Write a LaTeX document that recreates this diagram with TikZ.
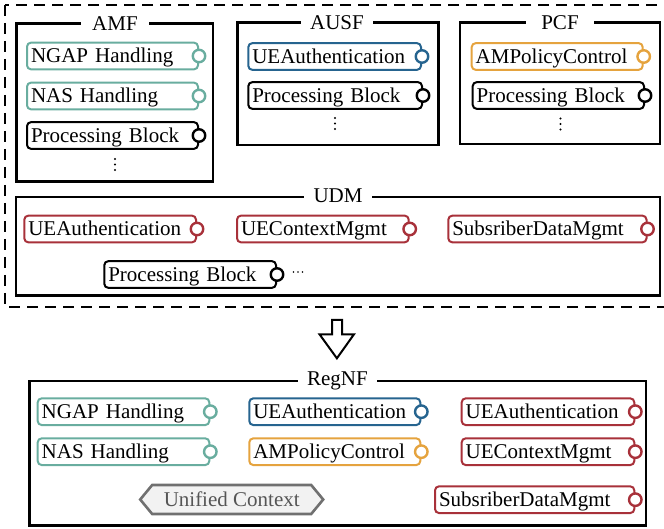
\documentclass[tikz,border=0pt]{standalone}
\usepackage{fontspec}
\setmainfont{Liberation Serif}
\usetikzlibrary{calc}

\definecolor{nfteal}{HTML}{69AD9F}
\definecolor{nfblue}{HTML}{26648F}
\definecolor{nforange}{HTML}{E5A33E}
\definecolor{nfred}{HTML}{A8313A}
\definecolor{ctxgray}{HTML}{707070}
\definecolor{ctxfill}{HTML}{F2F2F2}
\definecolor{ctxtext}{HTML}{555555}

\tikzset{
  grp/.style={draw=black, line width=2.6pt},
  outer/.style={draw=black, line width=2.6pt, dash pattern=on 11pt off 7pt},
  grptitle/.style={fill=white, inner xsep=9pt, inner ysep=0pt, minimum width=68pt,
    text height=16pt, text depth=2pt, font=\fontsize{21}{24}\selectfont},
  comp/.style={draw, fill=white, line width=2pt, rounded corners=4pt,
    inner xsep=4pt, inner ysep=3pt, minimum height=26.7pt,
    text height=16pt, text depth=2pt, align=left, anchor=west,
    font=\fontsize{21}{24}\selectfont},
  port/.style={circle, draw, fill=white, line width=2.4pt, minimum size=12.5pt, inner sep=0pt},
  dot/.style={fill=black},
  ctxbox/.style={draw=ctxgray, fill=ctxfill, line width=2.6pt, line join=miter},
  bigarrow/.style={draw=black, fill=white, line width=2pt, line join=miter},
}

% component block: name, colour, left x, port x, centre y, label
\newcommand\mkcomp[6]{%
  \pgfmathsetmacro\compw{#4-#3-8}%
  \node[comp, draw=#2, text width=\compw pt] (#1) at (#3,#5) {#6};
  \node[port, draw=#2] (#1p) at (#1.east) {};
}
% three stacked dots below a block list
\newcommand\vdotmark[1]{%
  \foreach \dy in {-5.5,0,5.5} {\fill[dot] ($(#1)+(0,\dy)$) circle (1.1pt);}%
}

\begin{document}
\begin{tikzpicture}[x=1pt, y=-1pt]
\useasboundingbox (0,0) rectangle (664,529);

% legacy network functions
\draw[outer] (5,5) rectangle (668,307);

% AMF
\draw[grp] (16.5,23.3) rectangle (213,181.7);
\node[grptitle] (amft) at (115,23.5) {AMF};
\mkcomp{amfngap}{nfteal}{26}{197}{56}{NGAP Handling}
\mkcomp{amfnas}{nfteal}{26}{197}{96}{NAS Handling}
\mkcomp{amfpb}{black}{26}{197}{135.5}{Processing Block}
\coordinate (amfdots) at (115,164.5);
\vdotmark{amfdots}

% AUSF
\draw[grp] (237.3,22.7) rectangle (438.3,145);
\node[grptitle] (ausft) at (337,22.9) {AUSF};
\mkcomp{ausfauth}{nfblue}{247.3}{420}{56.5}{UEAuthentication}
\mkcomp{ausfpb}{black}{247.3}{421}{95.5}{Processing Block}
\coordinate (ausfdots) at (335,123.5);
\vdotmark{ausfdots}

% PCF
\draw[grp] (460,22.7) rectangle (660,144);
\node[grptitle] (pcft) at (560,22.9) {PCF};
\mkcomp{pcfam}{nforange}{470.7}{641.7}{56.5}{AMPolicyControl}
\mkcomp{pcfpb}{black}{471.7}{643}{95.5}{Processing Block}
\coordinate (pcfdots) at (560.5,124);
\vdotmark{pcfdots}

% UDM
\draw[grp] (16,197) rectangle (660,295.7);
\node[grptitle] (udmt) at (338,195.5) {UDM};
\mkcomp{udmauth}{nfred}{23.3}{195}{229}{UEAuthentication}
\mkcomp{udmctx}{nfred}{236}{407.7}{229}{UEContextMgmt}
\mkcomp{udmsub}{nfred}{447.3}{645.5}{229}{SubsriberDataMgmt}
\mkcomp{udmpb}{black}{103.3}{275}{274.5}{Processing Block}
\coordinate (udmdots) at (298,272);
\foreach \dx in {-4.5,0,4.5} {\fill[dot] ($(udmdots)+(\dx,0)$) circle (0.9pt);}

% transformation arrow
\draw[bigarrow] (332,320) -- (342,320) -- (342,334.3) -- (354,334.3)
  -- (336.9,358.3) -- (319.5,334.3) -- (332,334.3) -- cycle;

% RegNF
\draw[grp] (29.3,381) rectangle (646,525.7);
\node[grptitle] (regt) at (337.5,378) {RegNF};
\mkcomp{rngap}{nfteal}{36.7}{208.3}{411.7}{NGAP Handling}
\mkcomp{rnas}{nfteal}{36.7}{208.3}{451.7}{NAS Handling}
\mkcomp{rauth}{nfblue}{248.3}{419.3}{411.7}{UEAuthentication}
\mkcomp{ram}{nforange}{248.3}{419.3}{451.7}{AMPolicyControl}
\mkcomp{rauthb}{nfred}{460.7}{633.3}{411.7}{UEAuthentication}
\mkcomp{rctx}{nfred}{460.7}{633.3}{451.7}{UEContextMgmt}
\mkcomp{rsub}{nfred}{434}{633.3}{499.7}{SubsriberDataMgmt}

% unified context
\coordinate (ucc) at (231.7,499.5);
\draw[ctxbox] ($(ucc)+(-91.5,0)$) -- ($(ucc)+(-79.5,-14.5)$) -- ($(ucc)+(79.5,-14.5)$)
  -- ($(ucc)+(91.5,0)$) -- ($(ucc)+(79.5,14.5)$) -- ($(ucc)+(-79.5,14.5)$) -- cycle;
\node[inner sep=0pt, text height=16pt, text depth=2pt, text=ctxtext,
  font=\fontsize{21}{24}\selectfont] (uc) at (ucc) {Unified Context};
\end{tikzpicture}
\end{document}
